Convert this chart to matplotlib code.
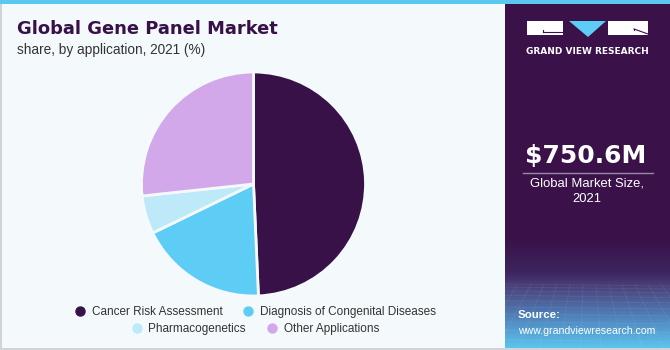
import numpy as np
import matplotlib.pyplot as plt
from matplotlib.patches import Rectangle, Polygon
from matplotlib.lines import Line2D
from matplotlib.colors import LinearSegmentedColormap

# market share by application, 2021 (%)
applications = ["Cancer Risk Assessment", "Diagnosis of Congenital Diseases",
                "Pharmacogenetics", "Other Applications"]
shares = [49.3, 18.5, 5.5, 26.7]
colors = ["#371148", "#5ecdf5", "#bde9f9", "#d3a8ea"]

market_size = "$750.6M"
market_label = "Global Market Size,\n2021"

W, H = 670, 350
bg = "#f4f9fc"
panel = "#3a1249"

fig = plt.figure(figsize=(W / 100, H / 100), dpi=100)
fig.patch.set_facecolor(bg)

# full-figure overlay in pixel coordinates for the decorations
deco = fig.add_axes([0, 0, 1, 1])
deco.set_xlim(0, W)
deco.set_ylim(H, 0)
deco.axis("off")

deco.add_patch(Rectangle((0, 0), 1.5, H, color="#d0d4d8", lw=0))
deco.add_patch(Rectangle((0, 347.5), W, 2.5, color="#d0d4d8", lw=0))
deco.add_patch(Rectangle((505, 0), W - 505, 348, color=panel, lw=0))

# gradient at bottom of right panel
grad = LinearSegmentedColormap.from_list(
    "src", [(0, panel), (0.3, "#3d2560"), (0.42, "#4a3f78"), (0.7, "#4f7fb8"), (1, "#5cc4ee")])
g = np.linspace(0, 1, 200).reshape(-1, 1)
deco.imshow(g, cmap=grad, extent=(505, W, 348, 240), aspect="auto", zorder=1)

# faint mesh in the gradient box
for k in range(14):
    x0 = 505 + k * 13
    deco.plot([x0, 505 + (x0 - 587) * 1.6 + 82], [284, 348], color="white", alpha=0.07, lw=0.6, zorder=2)
yy = 284
step = 3
while yy < 348:
    deco.plot([505, W], [yy, yy + 2], color="white", alpha=0.07, lw=0.6, zorder=2)
    yy += step
    step += 0.8

deco.add_patch(Rectangle((0, 0), W, 4, color="#5bc8ef", lw=0, zorder=3))

# logo
deco.add_patch(Rectangle((527, 21), 36, 14, color="white", lw=0, zorder=3))
deco.add_patch(Polygon([(569, 21), (606, 21), (588, 37)], color="#5ecdf5", lw=0, zorder=3))
deco.add_patch(Rectangle((608, 21), 40, 14, color="white", lw=0, zorder=3))
deco.plot([543, 563], [32, 32], color=panel, lw=0.8, zorder=4)
deco.plot([543, 543], [30, 32], color=panel, lw=0.8, zorder=4)
deco.plot([634, 648], [29, 34], color=panel, lw=0.8, zorder=4)
deco.plot([634, 634], [29, 30], color=panel, lw=0.8, zorder=4)
deco.text(587, 51, "GRAND VIEW RESEARCH", color="white", fontsize=6.5,
          fontweight="bold", ha="center", va="center", zorder=4)

# headline figure
deco.text(586, 156, market_size, color="white", fontsize=18, fontweight="bold",
          ha="center", va="center", zorder=4)
deco.plot([523, 653], [173, 173], color="#9a86a8", lw=1, zorder=4)
deco.text(587, 191, market_label, color="white", fontsize=9.4, ha="center",
          va="center", family="Liberation Sans", linespacing=1.35, zorder=4)

deco.text(518, 315, "Source:", color="white", fontsize=8.2, fontweight="bold",
          ha="left", va="center", family="Liberation Sans", zorder=4)
deco.text(518, 331, "www.grandviewresearch.com", color="white", fontsize=7.6,
          ha="left", va="center", family="Liberation Sans", zorder=4)

# titles
deco.text(17, 29, "Global Gene Panel Market", color="#371148", fontsize=12.9,
          fontweight="heavy", ha="left", va="center")
deco.text(17, 50, "share, by application, 2021 (%)", color="#333333", fontsize=9.8,
          ha="left", va="center", family="Liberation Sans")

# pie
cx, cy, r = 253.5, 184, 112
ax = fig.add_axes([(cx - r) / W, 1 - (cy + r) / H, 2 * r / W, 2 * r / H])
wedges, _ = ax.pie(shares, colors=colors, startangle=90, counterclock=False,
                   wedgeprops=dict(edgecolor=bg, linewidth=2.0))
ax.set_xlim(-1, 1)
ax.set_ylim(-1, 1)
ax.set_aspect("equal")
ax.axis("off")

handles = [Line2D([], [], marker="o", ls="", markersize=6.5, color=c) for c in colors]
leg_kw = dict(ncol=2, frameon=False, handletextpad=0.0, columnspacing=1.2,
              prop={"family": "Liberation Sans", "size": 8.5}, labelcolor="#333333")
fig.legend(handles[:2], applications[:2], loc="center",
           bbox_to_anchor=(252 / W, 1 - 312 / H), **leg_kw)
fig.legend(handles[2:], applications[2:], loc="center",
           bbox_to_anchor=(252 / W, 1 - 329 / H), **leg_kw)

fig.savefig("out.png", dpi=100, facecolor=bg)
